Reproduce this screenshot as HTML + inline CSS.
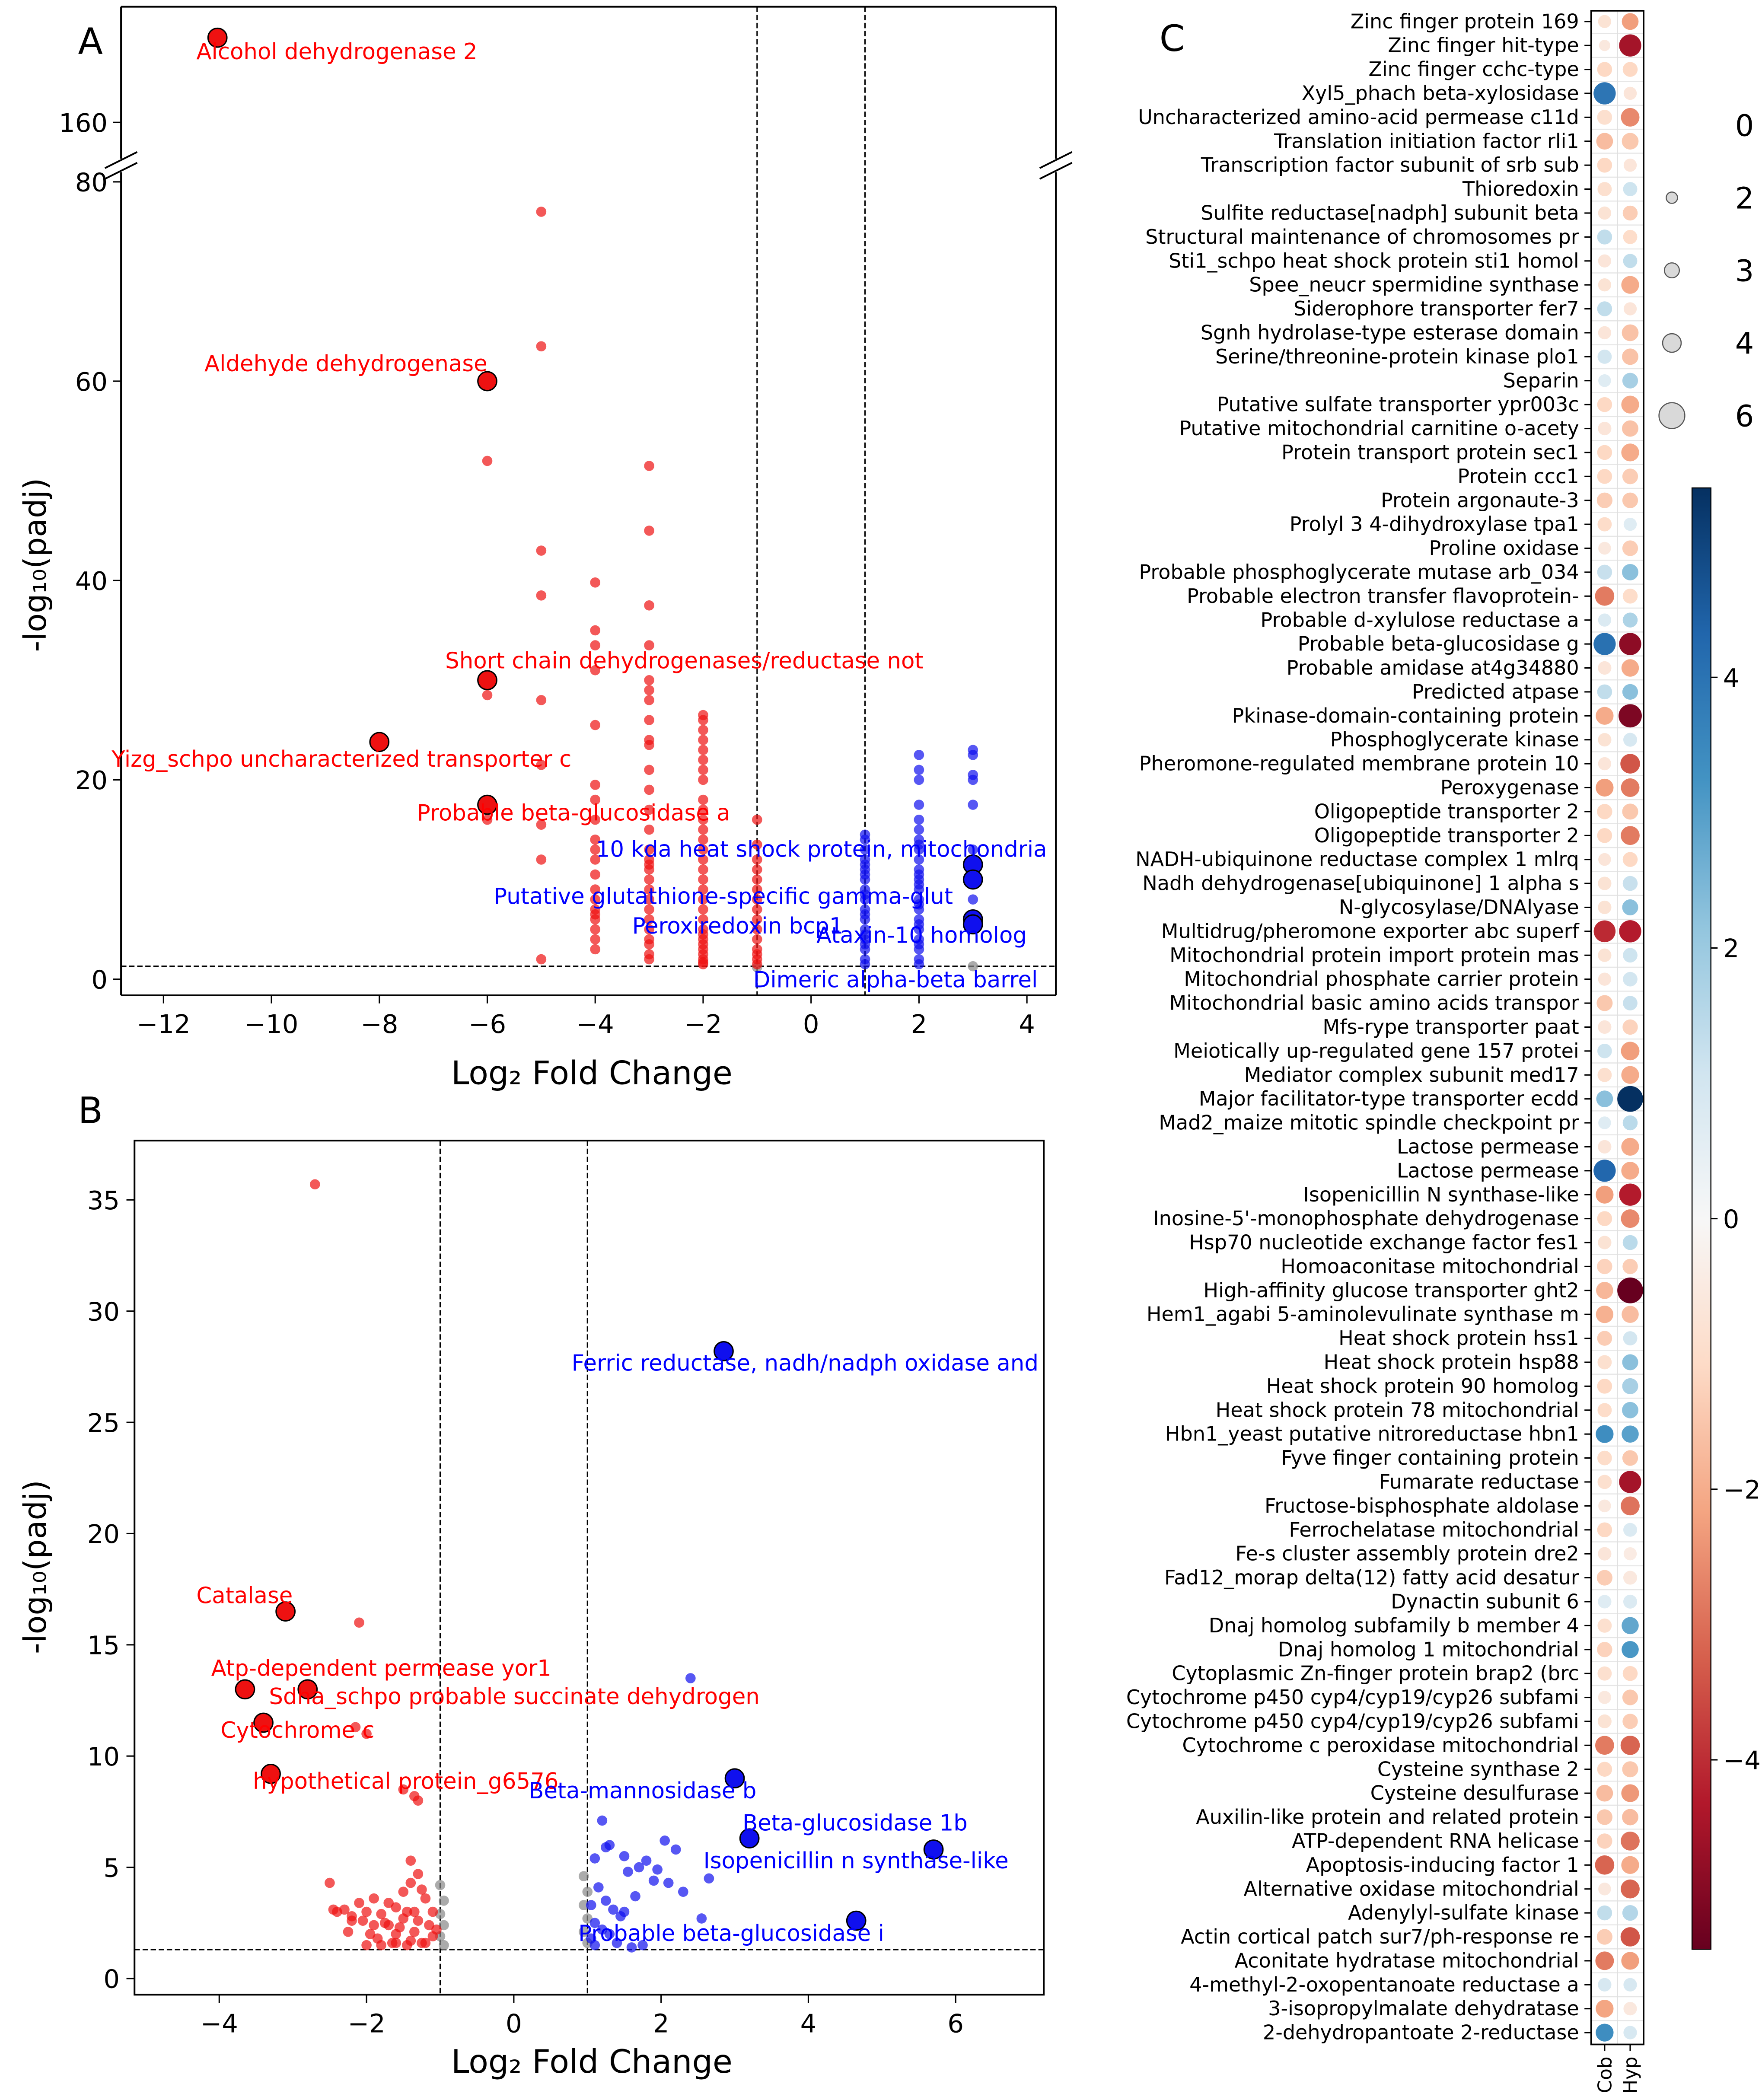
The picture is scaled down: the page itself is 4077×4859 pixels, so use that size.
<!DOCTYPE html>
<html><head><meta charset="utf-8"><style>
html,body{margin:0;padding:0;background:#fff}
svg{display:block}
text{font-family:"DejaVu Sans","Liberation Sans",sans-serif}
</style></head><body>
<svg id="fig" width="4077" height="4859" viewBox="0 0 1310 1561.3" preserveAspectRatio="none" xmlns="http://www.w3.org/2000/svg"></svg>
<script>
// ===== Panel A data =====
const aRedX=[-11,-8,-6,-6,-6,-6,-6,-6,-5,-5,-5,-5,-5,-5,-5,-5,-5,-4,-4,-4,-4,-4,-4,-4,-4,-4,-4,-4,-4,-4,-4,-4,-4,-4,-4,-4,-4,-3,-3,-3,-3,-3,-3,-3,-3,-3,-3,-3,-3,-3,-3,-3,-3,-3,-3,-3,-3,-3,-3,-3,-3,-3,-3,-3,-3,-2,-2,-2,-2,-2,-2,-2,-2,-2,-2,-2,-2,-2,-2,-2,-2,-2,-2,-2,-2,-2,-2,-2,-2,-2,-2,-2,-2,-2,-2,-1,-1,-1,-1,-1,-1,-1,-1,-1,-1,-1,-1,-1,-1,-1];
const aRedY=[168.5,23.8,60,52,30,28.5,17.5,16,77,63.5,43,38.5,28,21.5,15.5,12,2,39.8,35,33.5,31,25.5,19.5,18,16,14,13,12,10.5,9,8,7,6.5,6,5,4,3,51.5,45,37.5,33.5,30,29,28,26,24,23.5,21,19,17,15,13,12,11.5,11,10,9,8,7,6,5,4,3.5,2.5,2,26.5,26,25,24,23,22,21,20,18,17,16,15,14,13,12,11,10,9,8,7,6,5,4.5,4,3.5,3,2.5,2,1.7,1.5,16,13.5,12,11,10,9,8,7,6,5,4,3,2.5,2,1.5];
const aRedBig=[1,1,1,0,1,0,1,0,0,0,0,0,0,0,0,0,0,0,0,0,0,0,0,0,0,0,0,0,0,0,0,0,0,0,0,0,0,0,0,0,0,0,0,0,0,0,0,0,0,0,0,0,0,0,0,0,0,0,0,0,0,0,0,0,0,0,0,0,0,0,0,0,0,0,0,0,0,0,0,0,0,0,0,0,0,0,0,0,0,0,0,0,0,0,0,0,0,0,0,0,0,0,0,0,0,0,0,0,0,0];
const aBlueX=[1,1,1,1,1,1,1,1,1,1,1,1,1,1,1,1,1,1,1,1,1,2,2,2,2,2,2,2,2,2,2,2,2,2,2,2,2,2,2,2,2,2,2,2,2,2,2,3,3,3,3,3,3,3,3,3,3,3];
const aBlueY=[14.5,14,13,12,11.5,11,10.5,10,9,8.5,8,7,6.5,6,5,4.5,4,3.5,3,2,1.5,22.5,21,20,17.5,16,15,14,13.5,13,12,11,10.5,10,9.5,9,8,7.5,7,6,5.5,5,4,3.5,3,2,1.5,23,22.5,20.5,20,17.5,13,11.5,10,8,6,5.5];
const aBlueBig=[0,0,0,0,0,0,0,0,0,0,0,0,0,0,0,0,0,0,0,0,0,0,0,0,0,0,0,0,0,0,0,0,0,0,0,0,0,0,0,0,0,0,0,0,0,0,0,0,0,0,0,0,0,1,1,0,1,1];
const aGrayX=[3,-1];
const aGrayY=[1.3,1.2];
const aXTicks=[-12,-10,-8,-6,-4,-2,0,2,4];
const aYTicks=[0,20,40,60,80];
// ===== Panel B data =====
const bRedX=[-3.1,-3.65,-2.8,-3.4,-3.3,-2.7,-2.1,-2.15,-2.0,-1.5,-1.35,-1.3,-1.4,-2.5,-2.4,-2.3,-2.2,-2.1,-2.0,-1.9,-1.8,-1.7,-1.6,-1.5,-1.4,-1.3,-1.2,-1.1,-1.05,-2.45,-2.25,-2.05,-1.95,-1.85,-1.75,-1.65,-1.55,-1.45,-1.35,-1.25,-1.15,-1.1,-2.0,-1.8,-1.6,-1.4,-1.2,-1.7,-1.5,-1.3,-1.25,-1.9,-2.2,-1.6,-1.45,-1.35];
const bRedY=[16.5,13,13,11.5,9.2,35.7,16,11.3,11,8.5,8.2,8,5.3,4.3,3.0,3.1,2.6,3.4,3.0,3.6,2.9,2.4,3.2,3.9,4.3,2.6,3.6,3.0,2.2,3.1,2.1,2.6,2.0,1.8,2.5,1.6,2.3,3.0,2.1,1.6,2.4,1.9,1.5,1.5,1.6,1.7,1.6,3.4,2.7,4.7,4.0,2.4,2.8,2.0,1.5,3.0];
const bRedBig=[1,1,1,1,1,0,0,0,0,0,0,0,0,0,0,0,0,0,0,0,0,0,0,0,0,0,0,0,0,0,0,0,0,0,0,0,0,0,0,0,0,0,0,0,0,0,0,0,0,0,0,0,0,0,0,0];
const bBlueX=[2.85,3.0,3.2,5.7,4.65,2.4,1.2,2.05,1.3,1.5,1.7,1.9,2.2,2.65,2.55,1.1,1.15,1.25,1.35,1.45,1.55,1.65,1.8,1.95,2.1,2.3,1.05,1.1,1.2,1.3,1.4,1.6,1.75,1.1,1.5,1.05,1.25];
const bBlueY=[28.2,9,6.3,5.8,2.6,13.5,7.1,6.2,6.0,5.5,5.0,4.4,5.8,4.5,2.7,5.4,4.1,3.5,3.1,2.8,4.8,3.7,5.3,4.9,4.3,3.9,3.3,2.5,2.2,2.0,1.6,1.4,1.5,1.5,3.0,1.8,5.9];
const bBlueBig=[1,1,1,1,1,0,0,0,0,0,0,0,0,0,0,0,0,0,0,0,0,0,0,0,0,0,0,0,0,0,0,0,0,0,0,0,0];
const bGrayX=[-1.0,-0.95,-1.0,-0.95,-1.0,-0.95,0.95,1.0,0.95,1.0,0.95,1.0];
const bGrayY=[4.2,3.5,2.9,2.4,1.9,1.5,4.6,3.9,3.3,2.7,2.1,1.6];
const bXTicks=[-4,-2,0,2,4,6];
const bYTicks=[0,5,10,15,20,25,30,35];
// ===== Panel C data =====
const genes=["Zinc finger protein 169","Zinc finger hit-type","Zinc finger cchc-type","Xyl5_phach beta-xylosidase","Uncharacterized amino-acid permease c11d","Translation initiation factor rli1","Transcription factor subunit of srb sub","Thioredoxin","Sulfite reductase[nadph] subunit beta","Structural maintenance of chromosomes pr","Sti1_schpo heat shock protein sti1 homol","Spee_neucr spermidine synthase","Siderophore transporter fer7","Sgnh hydrolase-type esterase domain","Serine/threonine-protein kinase plo1","Separin","Putative sulfate transporter ypr003c","Putative mitochondrial carnitine o-acety","Protein transport protein sec1","Protein ccc1","Protein argonaute-3","Prolyl 3 4-dihydroxylase tpa1","Proline oxidase","Probable phosphoglycerate mutase arb_034","Probable electron transfer flavoprotein-","Probable d-xylulose reductase a","Probable beta-glucosidase g","Probable amidase at4g34880","Predicted atpase","Pkinase-domain-containing protein","Phosphoglycerate kinase","Pheromone-regulated membrane protein 10","Peroxygenase","Oligopeptide transporter 2","Oligopeptide transporter 2","NADH-ubiquinone reductase complex 1 mlrq","Nadh dehydrogenase[ubiquinone] 1 alpha s","N-glycosylase/DNAlyase","Multidrug/pheromone exporter abc superf","Mitochondrial protein import protein mas","Mitochondrial phosphate carrier protein","Mitochondrial basic amino acids transpor","Mfs-rype transporter paat","Meiotically up-regulated gene 157 protei","Mediator complex subunit med17","Major facilitator-type transporter ecdd","Mad2_maize mitotic spindle checkpoint pr","Lactose permease","Lactose permease","Isopenicillin N synthase-like","Inosine-5'-monophosphate dehydrogenase","Hsp70 nucleotide exchange factor fes1","Homoaconitase mitochondrial","High-affinity glucose transporter ght2","Hem1_agabi 5-aminolevulinate synthase m","Heat shock protein hss1","Heat shock protein hsp88","Heat shock protein 90 homolog","Heat shock protein 78 mitochondrial","Hbn1_yeast putative nitroreductase hbn1","Fyve finger containing protein","Fumarate reductase","Fructose-bisphosphate aldolase","Ferrochelatase mitochondrial","Fe-s cluster assembly protein dre2","Fad12_morap delta(12) fatty acid desatur","Dynactin subunit 6","Dnaj homolog subfamily b member 4","Dnaj homolog 1 mitochondrial","Cytoplasmic Zn-finger protein brap2 (brc","Cytochrome p450 cyp4/cyp19/cyp26 subfami","Cytochrome p450 cyp4/cyp19/cyp26 subfami","Cytochrome c peroxidase mitochondrial","Cysteine synthase 2","Cysteine desulfurase","Auxilin-like protein and related protein","ATP-dependent RNA helicase","Apoptosis-inducing factor 1","Alternative oxidase mitochondrial","Adenylyl-sulfate kinase","Actin cortical patch sur7/ph-response re","Aconitate hydratase mitochondrial","4-methyl-2-oxopentanoate reductase a","3-isopropylmalate dehydratase","2-dehydropantoate 2-reductase"];
const cobVal=[-0.7,-0.5,-1,3.5,-0.8,-1.5,-1,-0.8,-0.7,1.2,-0.6,-0.7,1.2,-0.6,0.9,0.6,-1,-0.6,-1,-1,-1.2,-0.9,-0.5,1.1,-2.5,0.7,3.6,-0.6,1.2,-1.8,-0.7,-0.6,-2,-1,-1,-0.6,-0.7,-0.7,-3.6,-0.7,-0.6,-1.3,-0.6,1,-0.8,2,0.6,-0.6,3.8,-2,-1,-0.7,-1.1,-1.6,-1.7,-1.2,-0.8,-1,-0.9,3,-0.9,-0.8,-0.5,-1,-0.6,-1.2,0.6,-0.8,-1.1,-0.8,-0.5,-0.7,-2.5,-1,-1.5,-1.3,-1.1,-2.8,-0.5,1.2,-1.2,-2.5,0.8,-1.9,3];
const cobSize=[2.5,2,3,5,3,3.5,3,2.8,2.5,3,2.5,2.5,3,2.5,2.8,2.4,3,2.6,3,3,3.2,2.8,2.4,3,4.2,2.5,5,2.6,3,3.8,2.6,2.5,3.8,3.1,3,2.4,2.6,2.6,4.9,2.6,2.5,3.3,2.6,2.9,2.8,3.5,2.4,2.6,5,3.8,3,2.6,3.1,3.6,3.7,3,2.8,3,2.8,3.8,2.9,2.8,2.4,3,2.6,3.2,2.6,2.8,3.1,2.8,2.5,2.7,4.1,3,3.5,3.2,3.1,4.2,2.4,3,3.2,4,2.6,3.8,3.8];
const hypVal=[-2,-4,-1,-0.6,-2.3,-1.3,-0.6,1,-1.2,-0.9,1.2,-1.8,-0.6,-1.4,-1.4,1.6,-1.8,-1.4,-1.8,-1.2,-1.3,0.6,-1.2,2,-0.9,1.5,-4.3,-1.8,2,-4.5,0.8,-3,-2.5,-1.3,-2.5,-1,1.1,2,-3.8,1,0.9,1.1,-1.1,-2,-1.8,5.4,1.3,-1.8,-1.8,-3.8,-2.3,1.3,-1.2,-5.4,-1.5,0.9,2,1.6,2,2.6,-1.3,-4,-2.6,0.7,-0.4,-0.5,0.7,2.5,2.8,-1,-1.3,-1.2,-2.8,-1.3,-2.1,-1.5,-2.6,-1.8,-2.8,1.4,-3,-2,0.8,-0.5,0.8];
const hypSize=[3.5,5,3,2.5,4,3.5,2.5,2.8,3,2.8,2.8,3.8,2.5,3.5,3.4,3.2,3.8,3.4,3.8,3.2,3.2,2.5,3.2,3.4,3,3,5,3.7,3.2,5.3,2.7,4.3,4,3.3,4.1,3,3,3.3,5,2.9,2.9,2.9,3.1,4,3.8,6,3,3.8,3.8,5,4,3,3.1,6,3.6,2.8,3.3,3.3,3.4,3.6,3.2,5,4.1,2.7,2.5,2.7,2.7,3.6,3.6,3,3.2,3.1,4.2,3.3,3.8,3.4,4.1,3.8,4.1,3.2,4.2,3.8,2.6,2.6,2.6];
const sizeLegend=[0,2,3,4,6];
const cbTicks=[4,2,0,-2,-4];

const NS="http://www.w3.org/2000/svg";
const svg=document.getElementById('fig');
function mk(tag,attrs,parent){const e=document.createElementNS(NS,tag);for(const k in attrs)e.setAttribute(k,attrs[k]);(parent||svg).appendChild(e);return e;}
function txt(s,attrs,parent){const e=mk('text',attrs,parent);e.textContent=s;return e;}

// ---- Panel A ----
const xA=v=>603+v*40.12, yA=v=>728-v*7.41, yA2=v=>91-(v-160)*7.41;
const gA=mk('g',{});


mk('line',{x1:90,y1:740,x2:785,y2:740,stroke:'#000','stroke-width':1.3},gA);
mk('line',{x1:90,y1:128,x2:90,y2:740,stroke:'#000','stroke-width':1.3},gA);
mk('line',{x1:785,y1:128,x2:785,y2:740,stroke:'#000','stroke-width':1.3},gA);
mk('line',{x1:90,y1:5,x2:785,y2:5,stroke:'#000','stroke-width':1.3},gA);
mk('line',{x1:90,y1:5,x2:90,y2:118,stroke:'#000','stroke-width':1.3},gA);
mk('line',{x1:785,y1:5,x2:785,y2:118,stroke:'#000','stroke-width':1.3},gA);
[[90,123],[785,123]].forEach(([x,y])=>{[-4,4].forEach(d=>mk('line',{x1:x-12,y1:y+d+6,x2:x+12,y2:y+d-6,stroke:'#000','stroke-width':1.3},gA));});
mk('line',{x1:xA(-1),y1:5,x2:xA(-1),y2:740,stroke:'#000','stroke-width':1,'stroke-dasharray':'4,2'},gA);
mk('line',{x1:xA(1),y1:5,x2:xA(1),y2:740,stroke:'#000','stroke-width':1,'stroke-dasharray':'4,2'},gA);
mk('line',{x1:90,y1:yA(1.3),x2:785,y2:yA(1.3),stroke:'#000','stroke-width':1,'stroke-dasharray':'4,2'},gA);
aXTicks.forEach(t=>{mk('line',{x1:xA(t),y1:740,x2:xA(t),y2:746,stroke:'#000'},gA);
 const l=txt(String(t).replace('-','\u2212'),{x:xA(t),y:768,'font-size':19,'text-anchor':'middle'},gA);
 
 });
aYTicks.forEach(t=>{mk('line',{x1:84,y1:yA(t),x2:90,y2:yA(t),stroke:'#000'},gA);
 const l=txt(String(t),{x:80,y:yA(t)+7,'font-size':19,'text-anchor':'end'},gA);
 
 });
mk('line',{x1:84,y1:yA2(160),x2:90,y2:yA2(160),stroke:'#000'},gA);
txt('160',{x:80,y:yA2(160)+7,'font-size':19,'text-anchor':'end'},gA);
function dotsA(X,Y,B,col){X.forEach((x,i)=>{const y=Y[i];const cy=y>100?yA2(y):yA(y);
 const c=mk('circle',{cx:xA(x),cy:cy,r:B&&B[i]?7:3.8,fill:col,'fill-opacity':B&&B[i]?1:0.7,stroke:B&&B[i]?'#000':'none','stroke-width':1},gA);
 
 });}
dotsA(aGrayX,aGrayY,null,'#888');
dotsA(aRedX,aRedY,aRedBig,'#ee1111');
dotsA(aBlueX,aBlueY,aBlueBig,'#1010ee');
const labA=[["Alcohol dehydrogenase 2",146,44,'#ff0000'],["Aldehyde dehydrogenase",152,276,'#ff0000'],["Short chain dehydrogenases/reductase not",331,497,'#ff0000'],["Yizg_schpo uncharacterized transporter c",83,570,'#ff0000'],["Probable beta-glucosidase a",310,610,'#ff0000'],["10 kda heat shock protein, mitochondria",443,637,'#0000ff'],["Putative glutathione-specific gamma-glut",367,672,'#0000ff'],["Peroxiredoxin bcp1",470,694,'#0000ff'],["Ataxin-10 homolog",607,701,'#0000ff'],["Dimeric alpha-beta barrel",560,734,'#0000ff']];
labA.forEach(([s,x,y,c])=>{const l=txt(s,{x:x,y:y,'font-size':16.5,fill:c},gA);
 
 });
txt('Log\u2082 Fold Change',{x:440,y:806,'font-size':24,'text-anchor':'middle'},gA);
txt('-log\u2081\u2080(padj)',{x:0,y:0,'font-size':23,'text-anchor':'middle',transform:'translate(34,420) rotate(-90)'},gA);
txt('A',{x:58,y:40,'font-size':27,'font-family':'Liberation Serif, serif'},gA);

// ---- Panel B ----
const xB=v=>382+v*54.75, yB=v=>1471-v*16.54;
const gB=mk('g',{});


mk('rect',{x:100,y:848,width:676,height:635,fill:'none',stroke:'#000','stroke-width':1.3},gB);
mk('line',{x1:xB(-1),y1:848,x2:xB(-1),y2:1483,stroke:'#000','stroke-width':1,'stroke-dasharray':'4,2'},gB);
mk('line',{x1:xB(1),y1:848,x2:xB(1),y2:1483,stroke:'#000','stroke-width':1,'stroke-dasharray':'4,2'},gB);
mk('line',{x1:100,y1:yB(1.3),x2:776,y2:yB(1.3),stroke:'#000','stroke-width':1,'stroke-dasharray':'4,2'},gB);
bXTicks.forEach(t=>{mk('line',{x1:xB(t),y1:1483,x2:xB(t),y2:1489,stroke:'#000'},gB);
 const l=txt(String(t).replace('-','\u2212'),{x:xB(t),y:1511,'font-size':19,'text-anchor':'middle'},gB);
 
 });
bYTicks.forEach(t=>{mk('line',{x1:94,y1:yB(t),x2:100,y2:yB(t),stroke:'#000'},gB);
 const l=txt(String(t),{x:89,y:yB(t)+7,'font-size':19,'text-anchor':'end'},gB);
 
 });
function dotsB(X,Y,B,col){X.forEach((x,i)=>{
 const c=mk('circle',{cx:xB(x),cy:yB(Y[i]),r:B&&B[i]?7:3.8,fill:col,'fill-opacity':B&&B[i]?1:0.7,stroke:B&&B[i]?'#000':'none','stroke-width':1},gB);
 
 });}
dotsB(bGrayX,bGrayY,null,'#888');
dotsB(bRedX,bRedY,bRedBig,'#ee1111');
dotsB(bBlueX,bBlueY,bBlueBig,'#1010ee');
const labB=[["Catalase",146,1192,'#ff0000'],["Atp-dependent permease yor1",157,1246,'#ff0000'],["Sdha_schpo probable succinate dehydrogen",200,1267,'#ff0000'],["Cytochrome c",164,1292,'#ff0000'],["hypothetical protein_g6576",188,1330,'#ff0000'],["Ferric reductase, nadh/nadph oxidase and",425,1019,'#0000ff'],["Beta-mannosidase b",393,1337,'#0000ff'],["Beta-glucosidase 1b",552,1361,'#0000ff'],["Isopenicillin n synthase-like",523,1389,'#0000ff'],["Probable beta-glucosidase i",430,1443,'#0000ff']];
labB.forEach(([s,x,y,c])=>{const l=txt(s,{x:x,y:y,'font-size':16.5,fill:c},gB);
 
 });
txt('Log\u2082 Fold Change',{x:440,y:1541,'font-size':24,'text-anchor':'middle'},gB);
txt('-log\u2081\u2080(padj)',{x:0,y:0,'font-size':23,'text-anchor':'middle',transform:'translate(34,1165) rotate(-90)'},gB);
txt('B',{x:58,y:835,'font-size':27,'font-family':'Liberation Serif, serif'},gB);

// ---- Panel C ----
const stops=['#67001f','#b2182b','#d6604d','#f4a582','#fddbc7','#f7f7f7','#d1e5f0','#92c5de','#4393c3','#2166ac','#053061'];
function hex(h){return [1,3,5].map(i=>parseInt(h.substr(i,2),16));}
function cmap(v){let t=(v+5.5)/11;t=Math.max(0,Math.min(1,t));const p=t*10,i=Math.min(9,Math.floor(p)),f=p-i;
 const a=hex(stops[i]),b=hex(stops[i+1]);return 'rgb('+a.map((c,k)=>Math.round(c+(b[k]-c)*f)).join(',')+')';}
const gain=1.15;
const rowY=i=>16+i*17.8, rr=s=>1.35*s+1.5;
const gC=mk('g',{});


genes.forEach((g,i)=>{if(i>0)mk('line',{x1:1183,y1:rowY(i)-8.9,x2:1222,y2:rowY(i)-8.9,stroke:'#e6e6e6','stroke-width':0.8},gC);});
mk('line',{x1:1202.5,y1:8,x2:1202.5,y2:1520,stroke:'#e0e0e0','stroke-width':0.8},gC);
mk('rect',{x:1183,y:8,width:39,height:1512,fill:'none',stroke:'#000','stroke-width':1.2},gC);
genes.forEach((g,i)=>{mk('line',{x1:1178,y1:rowY(i),x2:1183,y2:rowY(i),stroke:'#000'},gC);
 const l=txt(g,{x:1174,y:rowY(i)+5,'font-size':14.8,'text-anchor':'end'},gC);
 
 
 const c1=mk('circle',{cx:1193,cy:rowY(i),r:rr(cobSize[i]),fill:cmap(cobVal[i]*gain)},gC);
 
 
 const c2=mk('circle',{cx:1212,cy:rowY(i),r:rr(hypSize[i]),fill:cmap(hypVal[i]*gain)},gC);
 
 });
[['Cob',1193],['Hyp',1212]].forEach(([s,x])=>{mk('line',{x1:x,y1:1520,x2:x,y2:1525,stroke:'#000'},gC);
 const l=txt(s,{x:0,y:0,'font-size':14,'text-anchor':'end',transform:'translate('+(x+5)+',1529) rotate(-90)'},gC);
 
 });
txt('C',{x:862,y:38,'font-size':27,'font-family':'Liberation Serif, serif'},gC);
// size legend
sizeLegend.forEach((s,i)=>{const y=93+i*54;
 if(s>0){const c=mk('circle',{cx:1243,cy:y,r:rr(s),fill:'#d9d9d9',stroke:'#555','stroke-width':0.8},gC);
 
 }
 const l=txt(String(s),{x:1290,y:y+8,'font-size':22},gC);
 
 });
// colorbar
const defs=mk('defs',{});
const lg=mk('linearGradient',{id:'cb',x1:0,y1:1,x2:0,y2:0},defs);
stops.forEach((c,i)=>mk('stop',{offset:(i/10),'stop-color':c},lg));
const cb0=906, cbU=100.6, cbTop=cb0-5.4*cbU, cbBot=cb0+5.4*cbU;
const cbr=mk('rect',{x:1258,y:cbTop,width:14,height:cbBot-cbTop,fill:'url(#cb)',stroke:'#000','stroke-width':0.8},gC);


cbTicks.forEach(t=>{const y=cb0-t*cbU;mk('line',{x1:1272,y1:y,x2:1277,y2:y,stroke:'#000'},gC);
 const l=txt(String(t).replace('-','\u2212'),{x:1281,y:y+7,'font-size':19},gC);
 
 });
</script>
</body></html>
